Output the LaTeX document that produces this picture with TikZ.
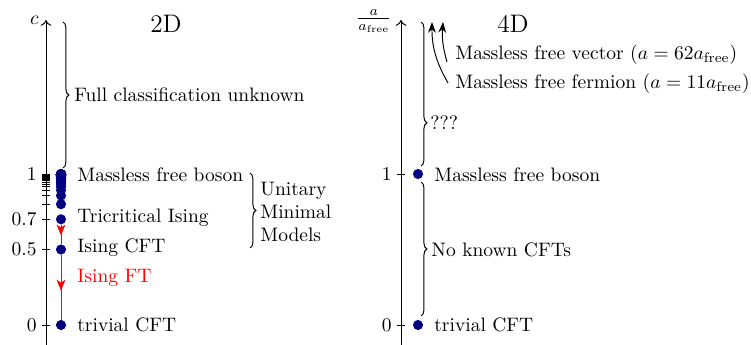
\documentclass[tikz,border=0pt]{standalone}
\usetikzlibrary{arrows.meta,decorations.pathreplacing,decorations.markings}
\definecolor{dotblue}{RGB}{0,0,128}
\begin{document}
\begin{tikzpicture}[x=0.513pt,y=-0.513pt,
  axisline/.style={line width=0.5pt,-{To[length=3pt,width=5.5pt]}},
  tickline/.style={line width=0.4pt},
  dot/.style={circle,fill=dotblue,inner sep=0pt,minimum size=5.2pt},
  lbl/.style={anchor=west,inner sep=0pt},
  ticklbl/.style={anchor=east,inner sep=0pt},
  bracedeco/.style={decorate,decoration={brace,amplitude=3pt},line width=0.5pt},
  redflow/.style={red,line width=0.5pt,postaction={decorate},
    decoration={markings,mark=at position 0.55 with {\arrow{Stealth[length=5.5pt,width=4.5pt,inset=1.5pt]}}}},
  curvarrow/.style={line width=0.5pt,-{Stealth[length=5.5pt,width=4pt]}}
]
\useasboundingbox (0,0) rectangle (751,345);

% ---------------- 2D panel ----------------
\coordinate (Lbot) at (46,345);
\coordinate (Ltop) at (46,20);
\draw[axisline] (Lbot) -- (Ltop);
\node[anchor=east,inner sep=0pt] (clbl) at (39,20) {$c$};
\node (title2d) at (166,24) {\fontsize{13}{15}\selectfont 2D};

% ticks
\foreach \yy in {325,249.5,219.3,174}{\draw[tickline] (42,\yy) -- (50,\yy);}
\node[ticklbl] (t0) at (37,325) {0};
\node[ticklbl] (t05) at (37,249.5) {0.5};
\node[ticklbl] (t07) at (37,219.3) {0.7};
\node[ticklbl] (t1) at (37,174) {1};

% minimal models accumulating to 1
\foreach \m in {5,...,60}{
  \pgfmathsetmacro\yy{325-151*(1-6/(\m*(\m+1)))}
  \draw[tickline] (42,\yy) -- (50,\yy);
  \fill[dotblue] (61,\yy) circle (2.6pt);
}
\node[dot] (boson2) at (61,174) {};
\node[dot] (tci) at (61,219.3) {};
\node[dot] (ising) at (61,249.5) {};
\node[dot] (triv2) at (61,325) {};

\draw[redflow] (tci) -- (ising);
\draw[redflow] (ising) -- (triv2);

\node[lbl] (lboson2) at (77,175) {Massless free boson};
\node[lbl] (ltci) at (77,218) {Tricritical Ising};
\node[lbl] (lising) at (77,248) {Ising CFT};
\node[lbl,text=red] (lisingft) at (77,278) {Ising FT};
\node[lbl] (ltriv2) at (77,325) {trivial CFT};

\draw[bracedeco] (63,22) -- (63,168);
\node[lbl] (lfull) at (74,95) {Full classification unknown};

\draw[bracedeco] (250,173) -- (250,248);
\node[lbl,align=left] (lumm) at (260,212) {Unitary\\Minimal\\Models};

% ---------------- 4D panel ----------------
\coordinate (Rbot) at (401,345);
\coordinate (Rtop) at (401,20);
\draw[axisline] (Rbot) -- (Rtop);
\node[anchor=east,inner sep=0pt] (alabel) at (392,21) {$\frac{a}{a_{\mathrm{free}}}$};
\node (title4d) at (513,24) {\fontsize{13}{15}\selectfont 4D};

\draw[tickline] (397,174) -- (405,174);
\draw[tickline] (397,325) -- (405,325);
\node[ticklbl] (r1) at (392,174) {1};
\node[ticklbl] (r0) at (392,325) {0};

\node[dot] (boson4) at (418,174) {};
\node[dot] (triv4) at (418,325) {};
\node[lbl] (lboson4) at (434,175) {Massless free boson};
\node[lbl] (ltriv4) at (434,325) {trivial CFT};

\draw[decorate,decoration={brace,amplitude=3pt,aspect=0.7},line width=0.5pt] (421,22) -- (421,166);
\node[lbl] (lqqq) at (430,123) {???};
\draw[bracedeco] (421,182) -- (421,316);
\node[lbl] (lnoknown) at (431,250) {No known CFTs};

\node[lbl] (lvec) at (455,55) {Massless free vector ($a=62a_{\mathrm{free}}$)};
\node[lbl] (lferm) at (455,84) {Massless free fermion ($a=11a_{\mathrm{free}}$)};
\coordinate (vecstart) at (447,62);
\coordinate (vecend) at (443,22);
\coordinate (fermstart) at (448,83);
\coordinate (fermend) at (432,22);
\draw[curvarrow] (vecstart) to[bend left=10] (vecend);
\draw[curvarrow] (fermstart) to[bend left=15] (fermend);
\end{tikzpicture}
\end{document}
